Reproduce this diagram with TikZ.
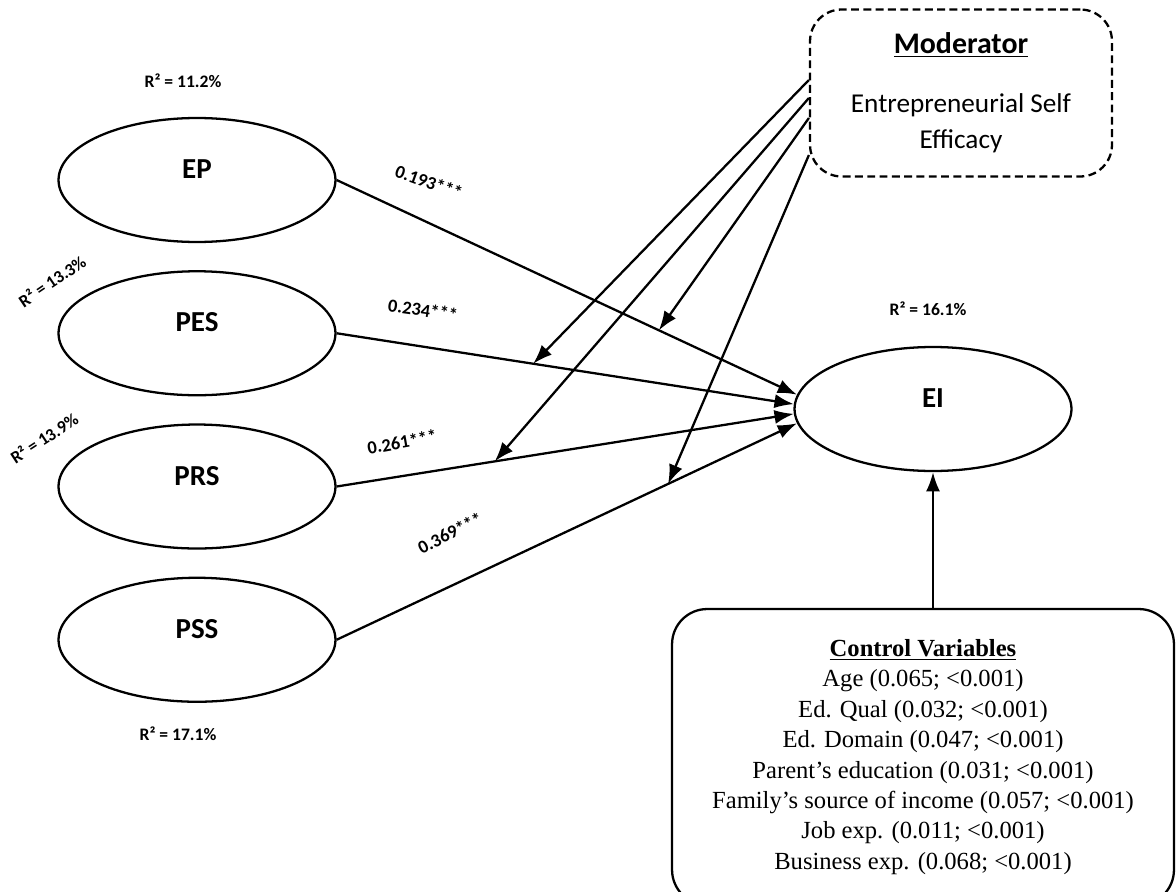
\documentclass[tikz,border=0pt]{standalone}
\usepackage{fontspec}
\setmainfont{Carlito}
\newfontfamily\timesfont{Liberation Serif}
\usetikzlibrary{arrows.meta, shapes.geometric, calc, positioning}

\tikzset{
  latent/.style={draw, ellipse, line width=1.3pt, minimum width=5.54cm, minimum height=2.48cm, text depth=12.5pt, font=\fontsize{16.5}{19}\selectfont\bfseries},
  link/.style={line width=1.3pt, -{Latex[length=11pt,width=8pt]}},
  coef/.style={font=\fontsize{10.5}{12}\selectfont\bfseries, inner sep=1pt},
  rsq/.style={font=\fontsize{10}{12}\selectfont\bfseries, inner sep=1pt},
}

\begin{document}
\begin{tikzpicture}[x=0.02cm, y=-0.02cm]
\useasboundingbox (0,0) rectangle (1176,892);
% constructs
\node [latent] (EP) at (197,180) {EP};
\node [latent, below=0.54cm of EP] (PES) {PES};
\node [latent, below=0.54cm of PES] (PRS) {PRS};
\node [latent, below=0.54cm of PRS] (PSS) {PSS};
\node [latent] (EI) at (933,409) {EI};

% moderator and controls
\node [draw, dash pattern=on 4.5pt off 2.5pt, rounded corners=18pt, line width=1.3pt, minimum width=6.04cm, minimum height=3.34cm, align=center, font=\fontsize{15.5}{20.5}\selectfont] (mod) at (961,93) {{\fontsize{17}{20.5}\selectfont\textbf{\underline{Moderator}}}\\[13pt] Entrepreneurial Self\\ Efficacy};
\node [draw, rounded corners=20pt, line width=1.3pt, minimum width=10.04cm, minimum height=5.92cm, align=center, font=\timesfont\fontsize{14}{17.3}\selectfont] (ctrl) at (923,757) {\textbf{\underline{Control Variables}}\\
  Age (0.065; <0.001)\\
  Ed. Qual (0.032; <0.001)\\
  Ed. Domain (0.047; <0.001)\\
  Parent’s education (0.031; <0.001)\\
  Family’s source of income (0.057; <0.001)\\
  Job exp. (0.011; <0.001)\\
  Business exp. (0.068; <0.001)};

% paths
\draw [link] (EP.east) -- coordinate [pos=0.70] (onEP) (EI.174);
\draw [link] (PES.east) -- coordinate [pos=0.43] (onPES) (EI.178);
\draw [link] (PRS.east) -- coordinate [pos=0.346] (onPRS) (EI.182);
\draw [link] (PSS.east) -- coordinate [pos=0.72] (onPSS) (EI.186);
\draw [link] (ctrl.north -| EI.south) -- (EI.south);

% moderating effects
\draw [link] ($(mod.west)+(0,-13)$) -- (onPES);
\draw [link] ($(mod.west)+(0,5)$) -- (onPRS);
\draw [link] ($(mod.west)+(0,25)$) -- (onEP);
\draw [link] ($(mod.west)+(0,62)$) -- (onPSS);

% coefficients
\node [coef, rotate=-20] (bEP) at (429,182) {0.193***};
\node [coef, rotate=-8] (bPES) at (423,310) {0.234***};
\node [coef, rotate=10] (bPRS) at (402,442) {0.261***};
\node [coef, rotate=27] (bPSS) at (450,533) {0.369***};

% explained variance
\node [rsq] (r2EP) at (183,81) {R² = 11.2\%};
\node [rsq, rotate=34] (r2PES) at (52,281) {R² = 13.3\%};
\node [rsq, rotate=33] (r2PRS) at (44,438) {R² = 13.9\%};
\node [rsq] (r2PSS) at (178,734) {R² = 17.1\%};
\node [rsq] (r2EI) at (928,309) {R² = 16.1\%};
\end{tikzpicture}
\end{document}
